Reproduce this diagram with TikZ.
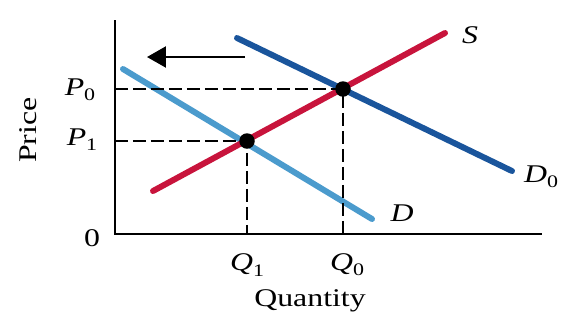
\documentclass[tikz,border=0pt]{standalone}
\usepackage{fontspec}
\setmainfont{Liberation Serif}[FakeStretch=1.25]
\usetikzlibrary{arrows.meta}
\definecolor{supplyred}{HTML}{C8143C}
\definecolor{demanddark}{HTML}{1A559C}
\definecolor{demandlight}{HTML}{4B9BCD}
\newcommand{\lowidx}[1]{\raisebox{-0.45ex}{\fontsize{10}{10}\selectfont #1}}
\begin{document}
\begin{tikzpicture}[
        x=0.02cm, y=-0.02cm,
        axis/.style={line width=1.2pt},
        curve/.style={line width=3.4pt, line cap=round},
        guide/.style={line width=0.9pt, dash pattern=on 0.26cm off 0.1cm},
        dot/.style={circle, fill=black, inner sep=0pt, minimum size=0.31cm},
        lbl/.style={font=\fontsize{14.5}{16}\selectfont, inner sep=1pt},
        shiftarrow/.style={-{Triangle[length=0.38cm, width=0.42cm]}, line width=1.3pt}
    ]
        \useasboundingbox (0,0) rectangle (568,326);

        % Axes
        \coordinate (origin) at (115,234);
        \coordinate (ytop) at (115,20);
        \coordinate (xend) at (542,234);
        \draw[axis] (ytop) -- (origin) -- (xend);

        % Curves
        \coordinate (s start) at (153,191);
        \coordinate (s end) at (445,33);
        \coordinate (d0 start) at (237,38);
        \coordinate (d0 end) at (512,171);
        \coordinate (d start) at (123,69);
        \coordinate (d end) at (372,219);
        \draw[curve, demandlight] (d start) -- (d end);
        \draw[curve, demanddark] (d0 start) -- (d0 end);
        \draw[curve, supplyred] (s start) -- (s end);

        % Equilibria
        \node[dot] (e0) at (343,89) {};
        \node[dot] (e1) at (247,141) {};
        \draw[guide] (origin |- e0.center) -- (e0.center) -- (e0.center |- origin);
        \draw[guide] (origin |- e1.center) -- (e1.center) -- (e1.center |- origin);

        % Shift arrow
        \coordinate (arrow tail) at (245,57);
        \coordinate (arrow tip) at (147,57);
        \draw[shiftarrow] (arrow tail) -- (arrow tip);

        % Labels
        \node[lbl] (p0) at (80,90) {\textit{P}\lowidx{0}};
        \node[lbl] (p1) at (82,140) {\textit{P}\lowidx{1}};
        \node[lbl] (zero) at (92,238) {0};
        \node[lbl] (q1) at (247,265) {\textit{Q}\lowidx{1}};
        \node[lbl] (q0) at (347,265) {\textit{Q}\lowidx{0}};
        \node[lbl] (qlabel) at (310,301) {Quantity};
        \node[lbl, rotate=90] (plabel) at (28,130) {Price};
        \node[lbl] (slabel) at (470,35) {\textit{S}};
        \node[lbl] (d0label) at (541,177) {\textit{D}\lowidx{0}};
        \node[lbl] (dlabel) at (402,213) {\textit{D}};
    \end{tikzpicture}
\end{document}
